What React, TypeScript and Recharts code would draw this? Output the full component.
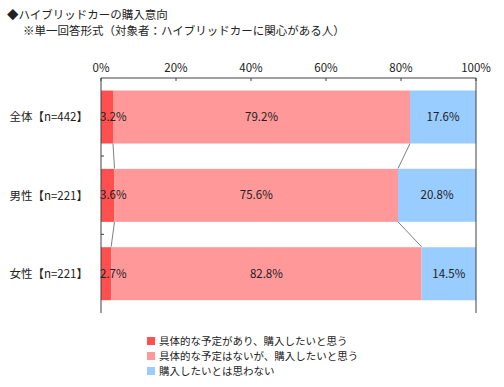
import { BarChart, Bar, XAxis, YAxis, ReferenceLine, LabelList } from 'recharts'

const CATEGORIES = ['全体【n=442】', '男性【n=221】', '女性【n=221】']
const SERIES_NAMES = [
  '具体的な予定があり、購入したいと思う',
  '具体的な予定はないが、購入したいと思う',
  '購入したいとは思わない',
]
const PLANNED = [3.2, 3.6, 2.7]
const NO_PLAN = [79.2, 75.6, 82.8]
const NOT_BUY = [17.6, 20.8, 14.5]
const X_TICKS = [0, 20, 40, 60, 80, 100]

const COLORS = ['#FF5050', '#FF9999', '#99CCFF']
const FONT = '"Noto Sans CJK JP", "Noto Sans", sans-serif'
const TEXT = '#222'
const AXIS = '#404040'
const GAP = 0.16 // barCategoryGap on each side, as a share of one row

const data = CATEGORIES.map((name, i) => ({
  name,
  planned: PLANNED[i],
  noPlan: NO_PLAN[i],
  notBuy: NOT_BUY[i],
}))

// cumulative edges used for the Excel-style series lines
const edgesA = PLANNED
const edgesB = PLANNED.map((v, i) => v + NO_PLAN[i])

const pct = (v: unknown) => `${v}%`

// middle series draws its bar plus the connector lines to the next row
function MiddleBar(props: any) {
  const { x, y, width, height, fill, index } = props
  const unit = width / NO_PLAN[index]
  const x0 = x - PLANNED[index] * unit
  const band = height / (1 - 2 * GAP)
  const last = index >= CATEGORIES.length - 1
  const yb = y + height
  const yn = y + band
  const tickY = yb + GAP * band
  return (
    <g>
      <rect x={x} y={y} width={width} height={height} fill={fill} />
      {!last && (
        <g stroke="#808080" strokeWidth={1}>
          <line x1={x0 + edgesA[index] * unit} y1={yb} x2={x0 + edgesA[index + 1] * unit} y2={yn} />
          <line x1={x0 + edgesB[index] * unit} y1={yb} x2={x0 + edgesB[index + 1] * unit} y2={yn} />
          <line x1={x0} y1={tickY} x2={x0 + 3} y2={tickY} stroke={AXIS} />
        </g>
      )}
    </g>
  )
}

export default function App() {
  return (
    <div style={{ position: 'absolute', left: 0, top: 0, width: 504, height: 387, background: '#fff', fontFamily: FONT, color: TEXT }}>
      <div style={{ position: 'absolute', left: 7, top: 6, fontSize: 11.5, lineHeight: '16px' }}>◆ハイブリッドカーの購入意向</div>
      <div style={{ position: 'absolute', left: 23, top: 22, fontSize: 11.5, lineHeight: '16px' }}>
        ※単一回答形式（対象者：ハイブリッドカーに関心がある人）
      </div>

      <BarChart
        width={504}
        height={387}
        layout="vertical"
        data={data}
        margin={{ top: 48, right: 28, bottom: 74, left: 0 }}
        barCategoryGap={`${GAP * 100}%`}
        style={{ fontFamily: FONT }}
      >
        <XAxis
          type="number"
          orientation="top"
          domain={[0, 100]}
          ticks={X_TICKS}
          interval={0}
          allowDataOverflow
          tickFormatter={pct}
          height={30}
          axisLine={{ stroke: AXIS }}
          tickLine={{ stroke: AXIS }}
          tickSize={-3}
          tickMargin={9}
          tick={{ fill: TEXT, fontSize: 11.5 }}
        />
        <XAxis
          xAxisId="bottom"
          type="number"
          orientation="bottom"
          domain={[0, 100]}
          allowDataOverflow
          height={0}
          tick={false}
          tickLine={false}
          axisLine={{ stroke: AXIS }}
        />
        <YAxis
          type="category"
          dataKey="name"
          width={101}
          axisLine={{ stroke: AXIS }}
          tickLine={false}
          tickSize={0}
          tickMargin={13}
          tick={{ fill: TEXT, fontSize: 11.5 }}
        />

        <Bar dataKey="planned" stackId="a" fill={COLORS[0]} isAnimationActive={false}>
          <LabelList dataKey="planned" position="insideLeft" offset={-1} formatter={pct} fill={TEXT} fontSize={11.5} />
        </Bar>
        <Bar dataKey="noPlan" stackId="a" fill={COLORS[1]} isAnimationActive={false} shape={MiddleBar}>
          <LabelList dataKey="noPlan" position="center" formatter={pct} fill={TEXT} fontSize={11.5} />
        </Bar>
        <Bar dataKey="notBuy" stackId="a" fill={COLORS[2]} isAnimationActive={false}>
          <LabelList dataKey="notBuy" position="center" formatter={pct} fill={TEXT} fontSize={11.5} />
        </Bar>
        <ReferenceLine x={100} stroke={AXIS} />
      </BarChart>

      <div style={{ position: 'absolute', left: 147, top: 333, fontSize: 10.5, lineHeight: '15px' }}>
        {SERIES_NAMES.map((n, i) => (
          <div key={n} style={{ display: 'flex', alignItems: 'center' }}>
            <span style={{ display: 'inline-block', width: 8, height: 8, background: COLORS[i], marginRight: 4 }} />
            <span>{n}</span>
          </div>
        ))}
      </div>
    </div>
  )
}
